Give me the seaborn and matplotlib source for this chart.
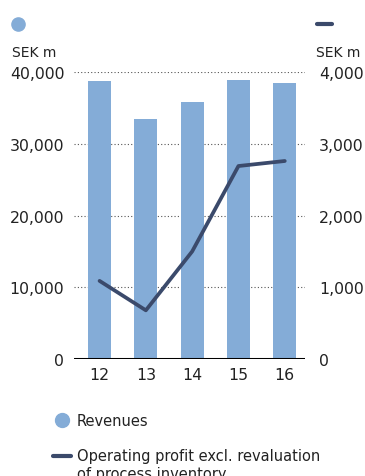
import numpy as np
import pandas as pd
import matplotlib
matplotlib.use("Agg")
import matplotlib.pyplot as plt
import seaborn as sns
from matplotlib.lines import Line2D

# data
years = ["12", "13", "14", "15", "16"]
revenues = [38700, 33400, 35800, 38900, 38500]
op_profit = [1090, 680, 1500, 2690, 2760]

bar_color = "#84acd7"
line_color = "#3b4a6b"
text_color = "#222222"

sns.set_style("white")
plt.rcParams['font.family'] = ['DejaVu Sans']

fig = plt.figure(figsize=(3.65, 4.77), dpi=100)
ax = fig.add_axes([0.203, 0.245, 0.633, 0.602])

df = pd.DataFrame({"year": years, "revenues": revenues})
sns.barplot(data=df, x="year", y="revenues", color=bar_color, width=0.5,
            saturation=1, linewidth=0, ax=ax, zorder=2)

ax2 = ax.twinx()
sns.lineplot(x=np.arange(len(years)), y=op_profit, color=line_color,
             linewidth=2.7, ax=ax2, zorder=3, solid_capstyle="round")

ax.set_ylim(0, 40000)
ax2.set_ylim(0, 4000)
ax.set_xlim(-0.55, 4.44)
ax.set_yticks([0, 10000, 20000, 30000, 40000])
ax.set_yticklabels(["0", "10,000", "20,000", "30,000", "40,000"])
ax2.set_yticks([0, 1000, 2000, 3000, 4000])
ax2.set_yticklabels(["0", "1,000", "2,000", "3,000", "4,000"])

for y in [10000, 20000, 30000, 40000]:
    ax.axhline(y, color="#555555", linestyle=(0, (1, 2)), linewidth=0.8, zorder=1)
ax.axhline(0, color="black", linewidth=2.2, zorder=4)

for a in (ax, ax2):
    for s in a.spines.values():
        s.set_visible(False)
    a.tick_params(length=0, labelsize=11.3, colors=text_color)
    a.set_xlabel("")
    a.set_ylabel("")
ax.tick_params(axis="y", pad=7)
ax2.tick_params(axis="y", pad=10)
ax.tick_params(axis="x", pad=6)

# axis unit labels and series markers at the top
fig.text(0.033, 0.889, "SEK m", fontsize=10, color=text_color, va="center")
fig.text(0.866, 0.889, "SEK m", fontsize=10, color=text_color, va="center")
fig.add_artist(Line2D([0.049], [0.948], marker="o", markersize=9.5,
                      color=bar_color, linestyle="none"))
fig.add_artist(Line2D([0.868, 0.91], [0.948, 0.948], color=line_color,
                      linewidth=3))

# legend at the bottom
fig.add_artist(Line2D([0.170], [0.117], marker="o", markersize=10,
                      color=bar_color, linestyle="none"))
fig.text(0.211, 0.117, "Revenues", fontsize=10.5, color=text_color, va="center")
fig.add_artist(Line2D([0.145, 0.195], [0.042, 0.042], color=line_color,
                      linewidth=3))
fig.text(0.211, 0.042, "Operating profit excl. revaluation",
         fontsize=10.5, color=text_color, va="center")
fig.text(0.211, 0.006, "of process inventory",
         fontsize=10.5, color=text_color, va="center")

fig.savefig("out.png", dpi=100)
